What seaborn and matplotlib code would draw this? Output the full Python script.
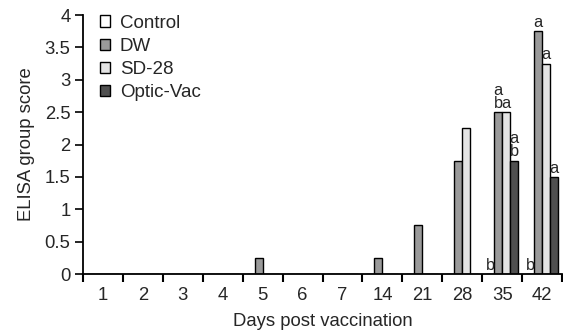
import matplotlib
matplotlib.use("Agg")
import matplotlib.pyplot as plt
import seaborn as sns
import pandas as pd
import numpy as np

days = ["1", "2", "3", "4", "5", "6", "7", "14", "21", "28", "35", "42"]
groups = ["Control", "DW", "SD-28", "Optic-Vac"]
control = [0, 0, 0, 0, 0, 0, 0, 0, 0, 0, 0, 0]
dw = [0, 0, 0, 0, 0.25, 0, 0, 0.25, 0.75, 1.75, 2.5, 3.75]
sd28 = [0, 0, 0, 0, 0, 0, 0, 0, 0, 2.25, 2.5, 3.25]
opticvac = [0, 0, 0, 0, 0, 0, 0, 0, 0, 0, 1.75, 1.5]
colors = ["#ffffff", "#9a9a9a", "#e4e4e4", "#505050"]

# significance letters: (day, group, text)
letters = [
    ("35", "Control", "b"), ("35", "DW", "a\nb"), ("35", "SD-28", "a"), ("35", "Optic-Vac", "a\nb"),
    ("42", "Control", "b"), ("42", "DW", "a"), ("42", "SD-28", "a"), ("42", "Optic-Vac", "a"),
]

rows = []
for g, vals in zip(groups, [control, dw, sd28, opticvac]):
    for d, v in zip(days, vals):
        rows.append({"Day": d, "Group": g, "Score": v})
df = pd.DataFrame(rows)

sns.set_style("ticks")
plt.rcParams["font.family"] = ["Liberation Sans", "DejaVu Sans"]

fig = plt.figure(figsize=(5.63, 3.34), dpi=100)
ax = fig.add_axes([0.1474, 0.1796, 0.851, 0.7754])

sns.barplot(data=df, x="Day", y="Score", hue="Group", order=days, hue_order=groups,
            palette=colors, edgecolor="black", linewidth=1.0, width=0.8,
            saturation=1, ax=ax, legend=True, errorbar=None)

ax.set_xlim(-0.5, 11.5)
ax.set_ylim(0, 4)
ax.set_yticks(np.arange(0, 4.01, 0.5))
ax.set_yticklabels(["0", "0.5", "1", "1.5", "2", "2.5", "3", "3.5", "4"])
ax.set_xticks(range(len(days)))
ax.set_xticklabels(days)
ax.set_xticks(np.arange(-0.5, 11.6, 1), minor=True)
ax.tick_params(axis="x", which="major", length=0, labelsize=13.3, pad=9)
ax.tick_params(axis="x", which="minor", length=6, width=1.5, direction="out", color="black")
ax.tick_params(axis="y", length=6, width=1.2, direction="out", labelsize=13.3, color="black", pad=3)
for s in ["top", "right"]:
    ax.spines[s].set_visible(False)
for s in ["left", "bottom"]:
    ax.spines[s].set_linewidth(1.3)
    ax.spines[s].set_color("black")

ax.set_xlabel("Days post vaccination", fontsize=13.3, labelpad=7)
ax.set_ylabel("ELISA group score", fontsize=13.3, labelpad=7)

# letters above bars, anchored to bar patches
nd = len(days)
for d, g, t in letters:
    gi = groups.index(g)
    di = days.index(d)
    patch = ax.patches[gi * nd + di]
    x = patch.get_x() + patch.get_width() / 2
    y = patch.get_height()
    ax.text(x, y + 0.02, t, ha="center", va="bottom", fontsize=11.8, linespacing=0.85)

leg = ax.legend(loc="upper left", bbox_to_anchor=(0.02, 1.03), frameon=False,
                fontsize=13.5, handlelength=0.55, handleheight=0.55, handletextpad=0.5,
                labelspacing=0.33, borderaxespad=0)
for h in leg.legend_handles:
    h.set_edgecolor("black")
    h.set_linewidth(1.0)

fig.savefig("out.png", dpi=100)
